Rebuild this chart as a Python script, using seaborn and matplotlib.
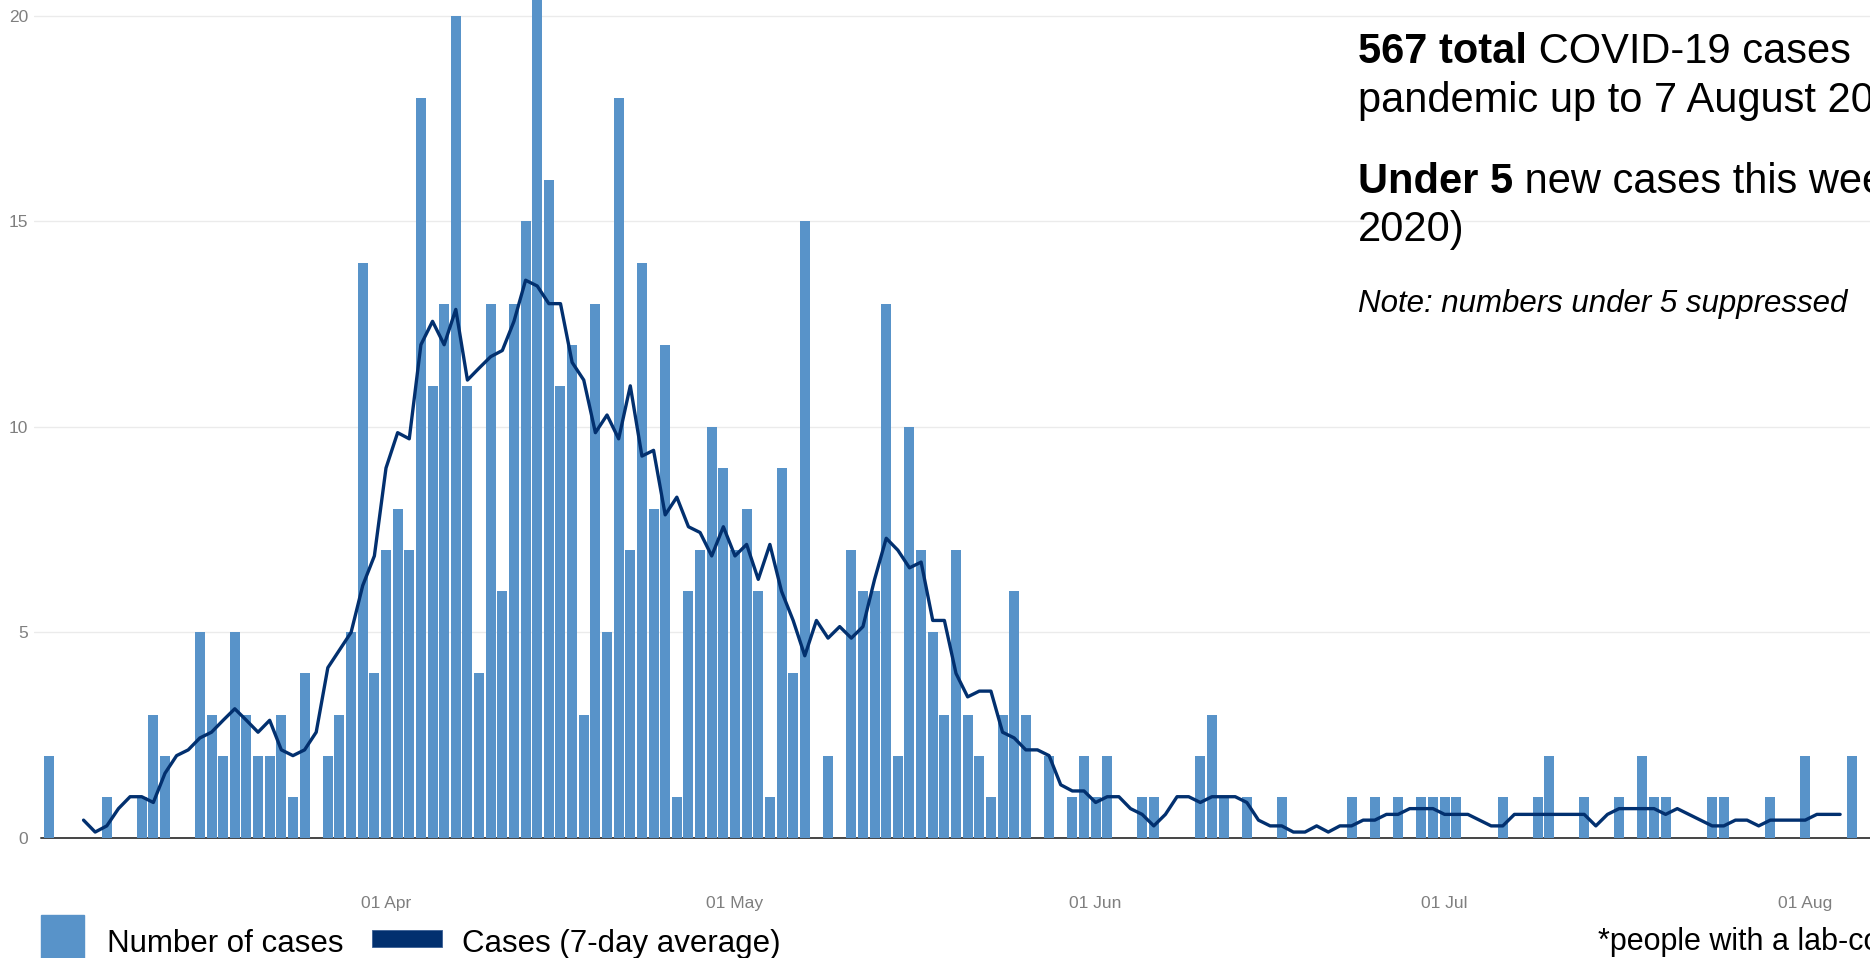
import pandas as pd
import numpy as np
import matplotlib
matplotlib.use('Agg')
import matplotlib.pyplot as plt
import matplotlib.dates as mdates
from matplotlib.patches import Rectangle
import seaborn as sns

# daily cases from 3 March 2020
first_day = '2020-03-03'
cases = [2, 0, 0, 0, 0, 1, 0, 0, 1, 3, 2, 0, 0, 5, 3, 2, 5, 3, 2, 2,
         3, 1, 4, 0, 2, 3, 5, 14, 4, 7, 8, 7, 18, 11, 13, 20, 11, 4, 13, 6,
         13, 15, 21, 16, 11, 12, 3, 13, 5, 18, 7, 14, 8, 12, 1, 6, 7, 10, 9, 7,
         8, 6, 1, 9, 4, 15, 0, 2, 0, 7, 6, 6, 13, 2, 10, 7, 5, 3, 7, 3,
         2, 1, 3, 6, 3, 0, 2, 0, 1, 2, 1, 2, 0, 0, 1, 1, 0, 0, 0, 2,
         3, 1, 0, 1, 0, 0, 1, 0, 0, 0, 0, 0, 1, 0, 1, 0, 1, 0, 1, 1,
         1, 1, 0, 0, 0, 1, 0, 0, 1, 2, 0, 0, 1, 0, 0, 1, 0, 2, 1, 1,
         0, 0, 0, 1, 1, 0, 0, 0, 1, 0, 0, 2, 0, 0, 0, 2]

# 7-day average, from 6 March 2020
avg_first_day = '2020-03-06'
avg = [0.43, 0.14, 0.29, 0.71, 1.0, 1.0, 0.86, 1.57, 2.0, 2.14,
       2.43, 2.57, 2.86, 3.14, 2.86, 2.57, 2.86, 2.14, 2.0, 2.14,
       2.57, 4.14, 4.57, 5.0, 6.14, 6.86, 9.0, 9.86, 9.71, 12.0,
       12.57, 12.0, 12.86, 11.14, 11.43, 11.71, 11.86, 12.57, 13.57, 13.43,
       13.0, 13.0, 11.57, 11.14, 9.86, 10.29, 9.71, 11.0, 9.29, 9.43,
       7.86, 8.29, 7.57, 7.43, 6.86, 7.57, 6.86, 7.14, 6.29, 7.14,
       6.0, 5.29, 4.43, 5.29, 4.86, 5.14, 4.86, 5.14, 6.29, 7.29,
       7.0, 6.57, 6.71, 5.29, 5.29, 4.0, 3.43, 3.57, 3.57, 2.57,
       2.43, 2.14, 2.14, 2.0, 1.29, 1.14, 1.14, 0.86, 1.0, 1.0,
       0.71, 0.57, 0.29, 0.57, 1.0, 1.0, 0.86, 1.0, 1.0, 1.0,
       0.86, 0.43, 0.29, 0.29, 0.14, 0.14, 0.29, 0.14, 0.29, 0.29,
       0.43, 0.43, 0.57, 0.57, 0.71, 0.71, 0.71, 0.57, 0.57, 0.57,
       0.43, 0.29, 0.29, 0.57, 0.57, 0.57, 0.57, 0.57, 0.57, 0.57,
       0.29, 0.57, 0.71, 0.71, 0.71, 0.71, 0.57, 0.71, 0.57, 0.43,
       0.29, 0.29, 0.43, 0.43, 0.29, 0.43, 0.43, 0.43, 0.43, 0.57,
       0.57, 0.57]

y_ticks = [0, 5, 10, 15, 20]
bar_color = '#5893c9'
line_color = '#02306f'

days = mdates.date2num(pd.date_range(first_day, periods=len(cases)))
avg_days = mdates.date2num(pd.date_range(avg_first_day, periods=len(avg)))
df_cases = pd.DataFrame({'day': days, 'cases': cases})
df_avg = pd.DataFrame({'day': avg_days, 'avg': avg})

sns.set_style('white')
plt.rcParams['font.family'] = ['Liberation Sans', 'DejaVu Sans']
plt.rcParams['text.color'] = 'black'

W, H = 1870, 958
fig = plt.figure(figsize=(W / 100, H / 100), dpi=100)
ax = fig.add_axes([34 / W, 1 - 883 / H, 1 - 34 / W, 883 / H])

sns.barplot(data=df_cases, x='day', y='cases', native_scale=True, width=0.86,
            color=bar_color, saturation=1, errorbar=None, linewidth=0, ax=ax, zorder=2)
sns.lineplot(data=df_avg, x='day', y='avg', color=line_color, lw=2.4, ax=ax, zorder=3)
ax.axhline(0, xmin=7 / 1836, color='#444444', lw=1.4, zorder=1)

apr1 = mdates.date2num(pd.Timestamp('2020-04-01'))
ax.set_xlim(apr1 - 352 / 11.633, apr1 + 1484 / 11.633)
ax.set_ylim(-1.10, 20.39)

ax.set_yticks(y_ticks)
ax.yaxis.grid(True, color='#ebebeb', lw=1.0)
ax.get_ygridlines()[0].set_visible(False)
ax.xaxis.grid(False)
ax.set_axisbelow(True)
ax.xaxis.set_major_locator(mdates.MonthLocator(bymonthday=1))
ax.xaxis.set_major_formatter(mdates.DateFormatter('%d %b'))
ax.tick_params(axis='y', length=0, pad=4, labelsize=12.5, labelcolor='#7f7f7f')
ax.tick_params(axis='x', length=4.5, width=1.3, color='#333333', pad=5,
               labelsize=12.5, labelcolor='#7f7f7f')
ax.set_xlabel('')
ax.set_ylabel('')
for s in ax.spines.values():
    s.set_visible(False)

# legend, drawn by hand
fig.add_artist(Rectangle((41 / W, 0), 43 / W, 43 / H, transform=fig.transFigure,
                         color=bar_color, clip_on=False))
fig.add_artist(Rectangle((372 / W, 1 - 947 / H), 70 / W, 17 / H, transform=fig.transFigure,
                         facecolor=line_color, edgecolor='#3a5f95', lw=0.6, clip_on=False))
fig.text(107 / W, 1 - 952 / H, 'Number of cases', fontsize=22.5, va='baseline')
fig.text(462 / W, 1 - 952 / H, 'Cases (7-day average)', fontsize=22.5, va='baseline')
fig.text(1598 / W, 1 - 950 / H, '*people with a lab-confirmed case',
         fontsize=22, va='baseline')

renderer = fig.canvas.get_renderer()


def rich_line(x, y, parts, size):
    for txt, weight in parts:
        t = fig.text(x, y, txt, fontsize=size, fontweight=weight, va='baseline')
        x += t.get_window_extent(renderer).width / fig.bbox.width


x0 = 1358 / W
rich_line(x0, 1 - 63 / H, [('567 total', 'bold'), (' COVID-19 cases', 'normal')], 30)
rich_line(x0, 1 - 112 / H, [('pandemic up to 7 August 2020', 'normal')], 30)
rich_line(x0, 1 - 193 / H, [('Under 5', 'bold'), (' new cases this week', 'normal')], 30)
rich_line(x0, 1 - 241 / H, [('2020)', 'normal')], 30)
fig.text(x0, 1 - 312 / H, 'Note: numbers under 5 suppressed', fontsize=22.5,
         style='italic', va='baseline')

fig.savefig('out.png', dpi=100)
